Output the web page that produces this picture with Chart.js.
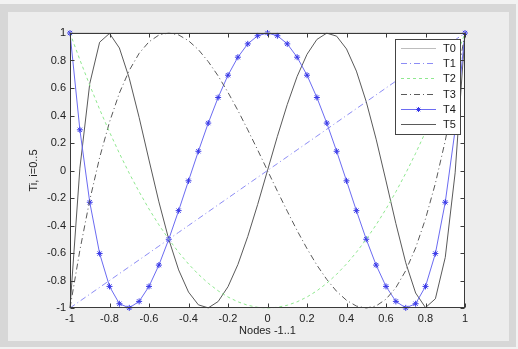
<!DOCTYPE html>
<html>
<head>
<meta charset="utf-8">
<script src="https://cdn.jsdelivr.net/npm/chart.js@4.4.1/dist/chart.umd.min.js"></script>
<style>
  html, body { margin: 0; padding: 0; background: #f0f0f0; }
  canvas { display: block; }
</style>
</head>
<body>
<canvas id="chebChart" width="518" height="349"></canvas>
<script>
// sample nodes on [-1, 1]
var nodes = [-1, -0.95, -0.9, -0.85, -0.8, -0.75, -0.7, -0.65, -0.6, -0.55, -0.5, -0.45, -0.4, -0.35, -0.3, -0.25, -0.2, -0.15, -0.1, -0.05,
  0, 0.05, 0.1, 0.15, 0.2, 0.25, 0.3, 0.35, 0.4, 0.45, 0.5, 0.55, 0.6, 0.65, 0.7, 0.75, 0.8, 0.85, 0.9, 0.95, 1];

var t0 = [1, 1, 1, 1, 1, 1, 1, 1, 1, 1, 1, 1, 1, 1, 1, 1, 1, 1, 1, 1, 1, 1, 1, 1, 1, 1, 1, 1, 1, 1, 1, 1, 1, 1, 1, 1, 1, 1, 1, 1, 1];
var t1 = [-1, -0.95, -0.9, -0.85, -0.8, -0.75, -0.7, -0.65, -0.6, -0.55, -0.5, -0.45, -0.4, -0.35, -0.3, -0.25, -0.2, -0.15, -0.1, -0.05,
  0, 0.05, 0.1, 0.15, 0.2, 0.25, 0.3, 0.35, 0.4, 0.45, 0.5, 0.55, 0.6, 0.65, 0.7, 0.75, 0.8, 0.85, 0.9, 0.95, 1];
var t2 = [1, 0.805, 0.62, 0.445, 0.28, 0.125, -0.02, -0.155, -0.28, -0.395, -0.5, -0.595, -0.68, -0.755, -0.82, -0.875, -0.92, -0.955, -0.98, -0.995,
  -1, -0.995, -0.98, -0.955, -0.92, -0.875, -0.82, -0.755, -0.68, -0.595, -0.5, -0.395, -0.28, -0.155, -0.02, 0.125, 0.28, 0.445, 0.62, 0.805, 1];
var t3 = [-1, -0.58, -0.216, 0.094, 0.352, 0.563, 0.728, 0.852, 0.936, 0.985, 1, 0.986, 0.944, 0.879, 0.792, 0.688, 0.568, 0.437, 0.296, 0.15,
  0, -0.15, -0.296, -0.437, -0.568, -0.688, -0.792, -0.879, -0.944, -0.986, -1, -0.985, -0.936, -0.852, -0.728, -0.563, -0.352, -0.094, 0.216, 0.58, 1];
var t4 = [1, 0.296, -0.231, -0.604, -0.843, -0.969, -0.999, -0.952, -0.843, -0.688, -0.5, -0.292, -0.075, 0.14, 0.345, 0.531, 0.693, 0.824, 0.921, 0.98,
  1, 0.98, 0.921, 0.824, 0.693, 0.531, 0.345, 0.14, -0.075, -0.292, -0.5, -0.688, -0.843, -0.952, -0.999, -0.969, -0.843, -0.604, -0.231, 0.296, 1];
var t5 = [-1, 0.017, 0.632, 0.933, 0.997, 0.891, 0.671, 0.386, 0.076, -0.228, -0.5, -0.723, -0.884, -0.977, -0.999, -0.953, -0.845, -0.684, -0.48, -0.248,
  0, 0.248, 0.48, 0.684, 0.845, 0.953, 0.999, 0.977, 0.884, 0.723, 0.5, 0.228, -0.076, -0.386, -0.671, -0.891, -0.997, -0.933, -0.632, -0.017, 1];

var seriesNames = ['T0', 'T1', 'T2', 'T3', 'T4', 'T5'];
var xTicks = [-1, -0.8, -0.6, -0.4, -0.2, 0, 0.2, 0.4, 0.6, 0.8, 1];
var xTickLabels = ['-1', '-0.8', '-0.6', '-0.4', '-0.2', '0', '0.2', '0.4', '0.6', '0.8', '1'];
var yTicks = [-1, -0.8, -0.6, -0.4, -0.2, 0, 0.2, 0.4, 0.6, 0.8, 1];
var yTickLabels = ['-1', '-0.8', '-0.6', '-0.4', '-0.2', '0', '0.2', '0.4', '0.6', '0.8', '1'];

var FONT = '"Liberation Sans", Arial, sans-serif';

function pts(ys) {
  return nodes.map(function(x, i) { return {x: x, y: ys[i]}; });
}

// figure background like a matlab window
var figureBg = {
  id: 'figureBg',
  beforeDraw: function(chart) {
    var c = chart.ctx;
    c.save();
    c.fillStyle = '#f2f2f2';
    c.fillRect(0, 0, 518, 349);
    c.fillStyle = '#d7d7d7';
    c.fillRect(0, 4, 516, 343);
    c.fillStyle = '#ededed';
    c.fillRect(8, 12, 501, 329);
    var a = chart.chartArea;
    c.fillStyle = '#ffffff';
    c.fillRect(a.left, a.top, a.right - a.left, a.bottom - a.top);
    c.restore();
  }
};

// box + inward ticks on all four sides
var axesBox = {
  id: 'axesBox',
  afterDatasetsDraw: function(chart) {
    var c = chart.ctx, a = chart.chartArea;
    var xs = chart.scales.x, ys = chart.scales.y;
    var L = Math.round(a.left) + 0.5, R = Math.round(a.right) - 0.5;
    var T = Math.round(a.top) + 0.5, B = Math.round(a.bottom) - 0.5;
    c.save();
    c.strokeStyle = '#3a3a3a';
    c.lineWidth = 1;
    c.strokeRect(L, T, R - L, B - T);
    c.beginPath();
    xTicks.forEach(function(v) {
      var px = Math.round(xs.getPixelForValue(v)) + 0.5;
      c.moveTo(px, B); c.lineTo(px, B - 4);
      c.moveTo(px, T); c.lineTo(px, T + 4);
    });
    yTicks.forEach(function(v) {
      var py = Math.round(ys.getPixelForValue(v)) + 0.5;
      c.moveTo(L, py); c.lineTo(L + 4, py);
      c.moveTo(R, py); c.lineTo(R - 4, py);
    });
    c.stroke();
    c.restore();
  }
};

// legend box in the upper right corner
var boxLegend = {
  id: 'boxLegend',
  afterDraw: function(chart) {
    var c = chart.ctx;
    var x0 = 395, y0 = 39, w = 65, h = 95;
    c.save();
    c.fillStyle = '#ffffff';
    c.fillRect(x0, y0, w, h);
    c.strokeStyle = '#444444';
    c.lineWidth = 1;
    c.strokeRect(x0 + 0.5, y0 + 0.5, w, h);
    chart.data.datasets.forEach(function(ds, i) {
      var y = Math.round(48 + i * 15.2) + 0.5;
      c.strokeStyle = ds.borderColor;
      c.lineWidth = ds.borderWidth;
      c.setLineDash(ds.borderDash || []);
      c.beginPath();
      c.moveTo(401, y);
      c.lineTo(436, y);
      c.stroke();
      c.setLineDash([]);
      if (ds.pointRadius > 0) {
        c.strokeStyle = ds.pointBorderColor;
        c.beginPath();
        var r = 2.5, m = 418.5;
        c.moveTo(m - r, y); c.lineTo(m + r, y);
        c.moveTo(m, y - r); c.lineTo(m, y + r);
        c.moveTo(m - r * 0.7, y - r * 0.7); c.lineTo(m + r * 0.7, y + r * 0.7);
        c.moveTo(m - r * 0.7, y + r * 0.7); c.lineTo(m + r * 0.7, y - r * 0.7);
        c.stroke();
      }
      c.fillStyle = '#1a1a1a';
      c.font = '11px ' + FONT;
      c.textBaseline = 'middle';
      c.fillText(ds.label, 443, y);
    });
    c.restore();
  }
};

var ctx = document.getElementById('chebChart').getContext('2d');
new Chart(ctx, {
  type: 'line',
  data: {
    datasets: [
      {label: seriesNames[0], data: pts(t0), borderColor: '#bdbdbd', borderWidth: 1, pointRadius: 0},
      {label: seriesNames[1], data: pts(t1), borderColor: '#8c8cf5', borderWidth: 1, borderDash: [6, 3, 1, 3], pointRadius: 0},
      {label: seriesNames[2], data: pts(t2), borderColor: '#8fe88f', borderWidth: 1, borderDash: [3, 3], pointRadius: 0},
      {label: seriesNames[3], data: pts(t3), borderColor: '#5a5a5a', borderWidth: 1, borderDash: [6, 3, 1, 3], pointRadius: 0},
      {label: seriesNames[4], data: pts(t4), borderColor: '#6b6bf2', borderWidth: 1, pointRadius: 3, pointStyle: 'star',
        pointBorderColor: '#3a3ae8', pointBackgroundColor: '#3a3ae8', pointBorderWidth: 1},
      {label: seriesNames[5], data: pts(t5), borderColor: '#5a5a5a', borderWidth: 1, pointRadius: 0}
    ]
  },
  options: {
    responsive: false,
    animation: false,
    events: [],
    layout: {padding: {left: 0, top: 33, right: 53, bottom: 0}},
    plugins: {legend: {display: false}, tooltip: {enabled: false}},
    elements: {line: {tension: 0, fill: false}},
    datasets: {line: {clip: 4}},
    scales: {
      x: {
        type: 'linear', min: -1, max: 1,
        afterFit: function(s) { s.height = 41; },
        afterBuildTicks: function(s) { s.ticks = xTicks.map(function(v) { return {value: v}; }); },
        grid: {display: false, drawTicks: false},
        border: {display: false},
        ticks: {
          padding: 4, maxRotation: 0, autoSkip: false, color: '#222222', font: {family: FONT, size: 11},
          callback: function(v, i) { return xTickLabels[i]; }
        },
        title: {display: true, text: 'Nodes -1..1', color: '#222222', font: {family: FONT, size: 11}, padding: {top: 0, bottom: 11}}
      },
      y: {
        type: 'linear', min: -1, max: 1,
        afterFit: function(s) { s.width = 70; },
        afterBuildTicks: function(s) { s.ticks = yTicks.map(function(v) { return {value: v}; }); },
        grid: {display: false, drawTicks: false},
        border: {display: false},
        ticks: {
          padding: 4, autoSkip: false, color: '#222222', font: {family: FONT, size: 11},
          callback: function(v, i) { return yTickLabels[i]; }
        },
        title: {display: true, text: 'Ti, i=0..5', color: '#222222', font: {family: FONT, size: 11}, padding: {top: 27, bottom: 0}}
      }
    }
  },
  plugins: [figureBg, axesBox, boxLegend]
});
</script>
</body>
</html>
